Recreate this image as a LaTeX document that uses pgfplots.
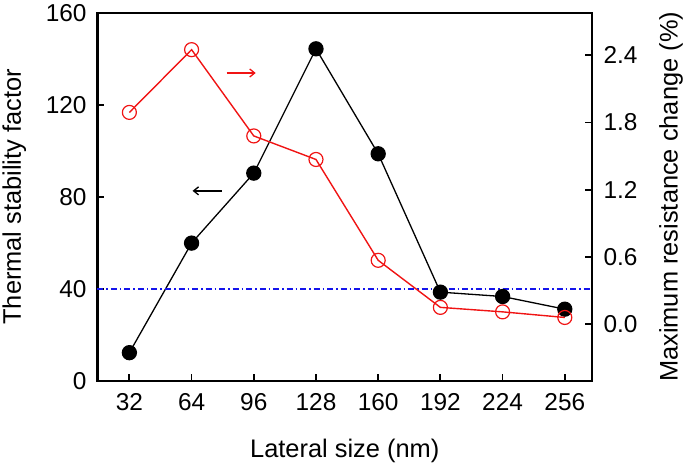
\documentclass[border=0pt]{standalone}
\usepackage{pgfplots}
\pgfplotsset{compat=1.18}
\usetikzlibrary{arrows.meta}
\usepackage{fontspec}
\setmainfont{Liberation Sans}
\definecolor{myred}{RGB}{240,20,20}
\definecolor{myblue}{RGB}{20,20,235}
\begin{document}
\begin{tikzpicture}[x=1bp,y=1bp]
\path[use as bounding box] (-97.5,-82) rectangle (587.5,381);
\begin{axis}[
  scale only axis, width=494.5bp, height=368.3bp,
  at={(0,0)}, anchor=south west,
  xmin=15.6, xmax=270, ymin=0, ymax=160,
  xtick={32,64,96,128,160,192,224,256},
  ytick={0,40,80,120,160},
  xtick pos=bottom, ytick pos=left,
  tick align=inside, major tick length=7bp,
  axis line style={line width=2.2bp},
  every tick/.style={line width=1.8bp, black},
  tick label style={font=\fontsize{24.5}{25}\selectfont},
  /pgf/number format/assume math mode=true,
  xticklabel style={yshift=-9bp},
  yticklabel style={xshift=-7.5bp},
  label style={font=\fontsize{25.5}{26}\selectfont},
  xlabel={Lateral size (nm)},
  ylabel={Thermal stability factor},
  xlabel style={at={(axis description cs:0.5,-0.19)}, anchor=center},
  ylabel style={at={(axis description cs:-0.168,0.5)}, anchor=center},
  clip=false,
]
\addplot[black, line width=1.3bp, mark=*, mark size=7bp, mark options={fill=black}]
  coordinates {(32,12.3) (64,59.9) (96,90.3) (128,144.3) (160,98.7) (192,38.6) (224,36.7) (256,31.2)};
\addplot[myblue, line width=1.2bp, dash pattern=on 6bp off 3bp on 1.5bp off 3bp, mark=none]
  coordinates {(15.6,40) (270,40)};
\draw[myred, line width=1.3bp, -{Straight Barb[length=5bp,width=8bp]}] (axis cs:82,133.8) -- (axis cs:97,133.8);
\draw[black, line width=1.3bp, -{Straight Barb[length=5bp,width=8bp]}] (axis cs:79.5,82.6) -- (axis cs:64.5,82.6);
\end{axis}
\begin{axis}[
  scale only axis, width=494.5bp, height=368.3bp,
  at={(0,0)}, anchor=south west,
  xmin=15.6, xmax=270, ymin=-0.507, ymax=2.78,
  axis x line=none,
  axis y line*=right,
  ytick={0,0.6,1.2,1.8,2.4},
  tick align=inside, major tick length=7bp,
  axis line style={line width=2.2bp, -},
  every tick/.style={line width=1.8bp, black},
  tick label style={font=\fontsize{24.5}{25}\selectfont},
  /pgf/number format/assume math mode=true,
  yticklabel style={/pgf/number format/fixed, /pgf/number format/fixed zerofill, /pgf/number format/precision=1, xshift=8bp},
  label style={font=\fontsize{25.5}{26}\selectfont},
  ylabel={Maximum resistance change (\%)},
  ylabel style={at={(axis description cs:1.1598,0.5)}, anchor=center},
  clip=false,
]
\addplot[myred, line width=1.4bp, mark=o, mark size=7bp, mark options={fill=white, line width=1.2bp}]
  coordinates {(32,1.89) (64,2.45) (96,1.68) (128,1.47) (160,0.57) (192,0.15) (224,0.11) (256,0.06)};
\end{axis}
\end{tikzpicture}
\end{document}
